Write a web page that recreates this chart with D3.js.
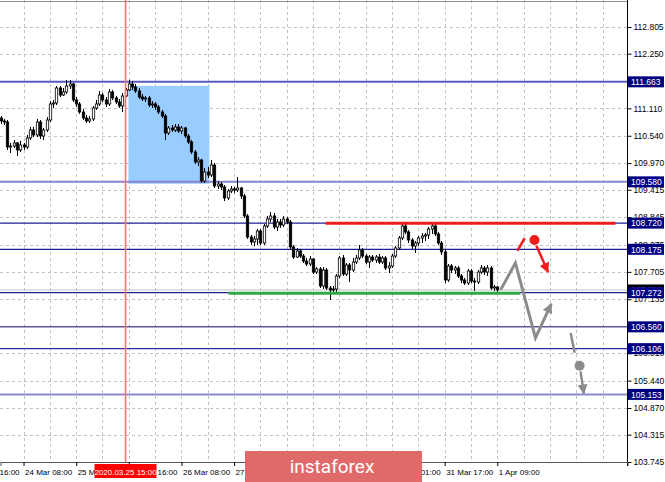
<!DOCTYPE html>
<html><head><meta charset="utf-8">
<script src="https://cdn.jsdelivr.net/npm/d3@7"></script>
<style>body{margin:0;background:#fff;overflow:hidden}svg{display:block;font-family:"Liberation Sans",Arial,sans-serif}</style>
</head><body><svg id="c" width="665" height="482"></svg>
<script>
// ---------- DATA (USDJPY H1) ----------
const firstOpen = 110.910;
const closes = [110.847,110.826,110.306,110.327,110.390,110.244,110.348,110.306,110.494,110.660,
110.556,110.826,110.535,110.660,110.868,111.202,111.223,111.535,111.389,111.452,
111.577,111.619,111.285,111.202,111.035,110.910,110.847,110.889,111.118,111.202,
111.389,111.285,111.202,111.452,111.327,111.243,111.160,111.368,111.493,111.619,
111.556,111.472,111.347,111.306,111.327,111.181,111.202,111.139,111.035,110.952,
110.598,110.702,110.660,110.722,110.639,110.702,110.535,110.410,110.202,109.994,
110.035,109.598,109.785,109.723,109.931,109.494,109.535,109.473,109.244,109.390,
109.431,109.410,109.452,109.285,108.869,108.431,108.327,108.390,108.556,108.306,
108.660,108.806,108.869,108.640,108.744,108.681,108.806,108.744,108.223,108.014,
108.140,108.035,107.931,107.869,107.973,107.702,107.765,107.411,107.744,107.369,
107.328,107.348,107.619,107.994,107.660,107.848,107.744,107.910,107.994,108.161,
108.035,107.910,108.014,107.952,108.014,107.910,107.994,107.786,107.827,108.035,
108.202,108.411,108.660,108.536,108.369,108.244,108.306,108.411,108.452,108.473,
108.598,108.660,108.494,108.306,108.119,107.536,107.827,107.744,107.786,107.619,
107.536,107.473,107.723,107.515,107.494,107.702,107.786,107.702,107.786,107.369,
107.390,107.328];
const highs = [110.952,110.889,110.868,110.390,110.452,110.410,110.431,110.390,110.556,110.722,
110.722,110.889,110.868,110.702,110.931,111.264,111.285,111.577,111.577,111.535,
111.702,111.702,111.640,111.347,111.243,111.098,110.973,110.952,111.160,111.285,
111.472,111.431,111.347,111.514,111.493,111.368,111.306,111.431,111.535,111.702,
111.681,111.619,111.535,111.410,111.368,111.368,111.264,111.243,111.181,111.077,
110.993,110.743,110.764,110.785,110.785,110.743,110.722,110.577,110.452,110.244,
110.098,110.056,109.869,109.890,110.035,109.973,109.598,109.577,109.515,109.431,
109.494,109.473,109.681,109.473,109.327,108.911,108.473,108.452,108.598,108.598,
108.702,108.869,108.952,108.931,108.806,108.806,108.869,108.848,108.786,108.265,
108.202,108.182,108.077,107.994,108.035,107.994,107.806,107.806,107.806,107.785,
107.411,107.411,107.660,108.035,108.056,107.890,107.890,107.994,108.056,108.265,
108.202,108.077,108.056,108.056,108.056,108.077,108.035,108.035,107.910,108.077,
108.244,108.452,108.723,108.702,108.577,108.411,108.348,108.452,108.515,108.515,
108.640,108.723,108.702,108.536,108.348,108.161,107.869,107.869,107.827,107.827,
107.660,107.577,107.765,107.765,107.577,107.744,107.848,107.827,107.848,107.827,
107.432,107.411];
const lows = [110.785,110.764,110.244,110.182,110.285,110.119,110.202,110.244,110.265,110.452,
110.514,110.514,110.473,110.452,110.618,110.826,111.118,111.181,111.347,111.368,
111.410,111.514,111.243,111.139,110.993,110.868,110.806,110.806,110.847,111.077,
111.160,111.243,111.139,111.160,111.285,111.202,111.118,111.035,111.347,111.472,
111.493,111.431,111.306,111.264,111.243,111.139,111.118,111.077,110.993,110.910,
110.452,110.556,110.618,110.618,110.598,110.577,110.494,110.369,110.160,109.952,
109.910,109.556,109.556,109.660,109.681,109.452,109.431,109.410,109.181,109.202,
109.348,109.348,109.369,109.223,108.827,108.390,108.265,108.244,108.265,108.265,
108.265,108.619,108.744,108.598,108.556,108.619,108.640,108.702,108.182,107.973,
107.994,107.994,107.890,107.827,107.827,107.660,107.660,107.369,107.348,107.328,
107.119,107.265,107.286,107.577,107.619,107.619,107.494,107.702,107.869,107.952,
107.994,107.869,107.786,107.910,107.890,107.869,107.869,107.744,107.681,107.786,
107.994,108.161,108.369,108.494,108.306,108.182,108.098,108.244,108.306,108.348,
108.390,108.494,108.452,108.265,108.056,107.473,107.494,107.681,107.660,107.577,
107.473,107.432,107.432,107.473,107.307,107.452,107.660,107.640,107.619,107.328,
107.307,107.286];

const yTicks = [112.805,112.250,111.680,111.110,110.540,109.970,109.415,108.845,108.275,
                107.705,107.135,106.575,106.010,105.440,104.870,104.315,103.745];
const yHiddenTicks = [111.680, 106.575];
const xTickIdx = [-9,7,23,39,55,71,87,103,119,135,151];
const xTickLabels = ["23 Mar 16:00","24 Mar 08:00","25 Mar 00:00","25 Mar 16:00","26 Mar 08:00",
                     "27 Mar 00:00","27 Mar 16:00","30 Mar 09:00","31 Mar 01:00","31 Mar 17:00","1 Apr 09:00"];
const levels = [111.663,109.580,108.720,108.175,107.272,106.560,106.106,105.153];
const levelLabels = ["111.663","109.580","108.720","108.175","107.272","106.560","106.106","105.153"];
const markerIdx = 38, markerLabel = "2020.03.25 15:00";
const zoneIdx = [38.9, 63.5], zonePrice = [111.58, 109.54];
const resistIdx = [98.8, 186.9], resistPrice = 108.72;
const supportIdx = [69.3, 158], supportPrice = 107.262;
const grayZig = [[152,107.33],[156.5,107.89],[162.6,106.33],[167.4,107.04]];
const redStroke = [[157.1,108.14],[159.3,108.41]];
const redDot = [162.3,108.37];
const redArrow = [[162.9,108.25],[166.4,107.70]];
const grayDash = [[173.3,106.43],[174.5,106.02]];
const grayDot = [176.0,105.75];
const grayArrow = [[176.3,105.63],[177.3,105.17]];

// ---------- STYLES ----------
const W = 665, H = 482, plotR = 627.5, plotB = 462;
const levelStyles = [
  {c:"#5a5ac0", w:2}, {c:"#8585d2", w:2}, {c:"#1e1e96", w:1.2}, {c:"#1e1e96", w:1.2},
  {c:"#1e1e96", w:1.2}, {c:"#5a5a96", w:1.5}, {c:"#2a2aa6", w:1.2}, {c:"#8a8ad0", w:2}];

const svg = d3.select("#c");
const x = d3.scaleLinear().domain([0, 190.6]).range([0.5, 627.6]);
const y = d3.scaleLinear().domain([103.745, 112.805]).range([462, 27]);

const candles = closes.map((c, i) => {
  const o = i === 0 ? firstOpen : closes[i-1];
  return {i, o, c, h: Math.max(highs[i], o, c), l: Math.min(lows[i], o, c)};
});

const defs = svg.append("defs");
function marker(id, color) {
  defs.append("marker").attr("id", id).attr("viewBox","0 0 10 10").attr("refX",9).attr("refY",5)
    .attr("markerUnits","userSpaceOnUse").attr("markerWidth",11).attr("markerHeight",10)
    .attr("orient","auto").append("path").attr("d","M0,0 L10,5 L0,10 Z").attr("fill", color);
}
marker("ag", "#8c8c8c"); marker("ar", "#f01c1c");

svg.append("rect").attr("width", W).attr("height", H).attr("fill", "#fff");

// grid
const grid = svg.append("g").attr("stroke","#c4c4c4").attr("stroke-dasharray","3,3").attr("stroke-width",1);
grid.selectAll("line.h").data(yTicks).join("line")
  .attr("x1",0).attr("x2",plotR).attr("y1",d=>Math.round(y(d))+0.5).attr("y2",d=>Math.round(y(d))+0.5);
const vIdx = d3.range(7, 191, 8);
grid.selectAll("line.v").data(vIdx).join("line")
  .attr("x1",d=>Math.round(x(d))+0.5).attr("x2",d=>Math.round(x(d))+0.5).attr("y1",0).attr("y2",plotB);

// zone rectangle
svg.append("rect").attr("x", x(zoneIdx[0])).attr("width", x(zoneIdx[1]) - x(zoneIdx[0]))
  .attr("y", y(zonePrice[0])).attr("height", y(zonePrice[1]) - y(zonePrice[0])).attr("fill", "#99ccff");

// levels
svg.append("g").selectAll("line").data(levels).join("line")
  .attr("x1",0).attr("x2",plotR).attr("y1",d=>y(d)).attr("y2",d=>y(d))
  .attr("stroke",(d,i)=>levelStyles[i].c).attr("stroke-width",(d,i)=>levelStyles[i].w);

// bid line
const last = closes[closes.length-1];
svg.append("line").attr("x1",0).attr("x2",plotR).attr("y1",y(last)).attr("y2",y(last))
  .attr("stroke","#c0c0c0").attr("stroke-width",1);

// candles
const cg = svg.append("g");
cg.selectAll("line").data(candles).join("line")
  .attr("x1",d=>Math.round(x(d.i))+0.5).attr("x2",d=>Math.round(x(d.i))+0.5)
  .attr("y1",d=>y(d.h)).attr("y2",d=>y(d.l)).attr("stroke","#000").attr("stroke-width",1);
cg.selectAll("rect").data(candles).join("rect")
  .attr("x",d=>Math.round(x(d.i))+0.5-1.2).attr("width",2.4)
  .attr("y",d=>y(Math.max(d.o,d.c))).attr("height",d=>Math.max(0.8, Math.abs(y(d.o)-y(d.c))))
  .attr("fill",d=>d.c>=d.o?"#fff":"#000").attr("stroke","#000").attr("stroke-width",0.8);

// resistance / support
svg.append("line").attr("x1",x(resistIdx[0])).attr("x2",x(resistIdx[1])).attr("y1",y(resistPrice)).attr("y2",y(resistPrice))
  .attr("stroke","#f01c1c").attr("stroke-width",3);
svg.append("line").attr("x1",x(supportIdx[0])).attr("x2",x(supportIdx[1])).attr("y1",y(supportPrice)).attr("y2",y(supportPrice))
  .attr("stroke","#2fa84a").attr("stroke-width",3);

// forecast drawings
const ln = d3.line().x(d=>x(d[0])).y(d=>y(d[1]));
svg.append("path").attr("d", ln(grayZig)).attr("fill","none").attr("stroke","#8c8c8c").attr("stroke-width",3)
  .attr("stroke-linejoin","miter").attr("marker-end","url(#ag)");
svg.append("path").attr("d", ln(redStroke)).attr("fill","none").attr("stroke","#f01c1c").attr("stroke-width",2.5);
svg.append("circle").attr("cx",x(redDot[0])).attr("cy",y(redDot[1])).attr("r",5).attr("fill","#f01c1c");
svg.append("path").attr("d", ln(redArrow)).attr("fill","none").attr("stroke","#f01c1c").attr("stroke-width",2.5)
  .attr("marker-end","url(#ar)");
svg.append("path").attr("d", ln(grayDash)).attr("fill","none").attr("stroke","#8c8c8c").attr("stroke-width",2.5);
svg.append("circle").attr("cx",x(grayDot[0])).attr("cy",y(grayDot[1])).attr("r",5).attr("fill","#8c8c8c");
svg.append("path").attr("d", ln(grayArrow)).attr("fill","none").attr("stroke","#8c8c8c").attr("stroke-width",2.5)
  .attr("marker-end","url(#ag)");

// red vertical marker
svg.append("line").attr("x1",x(markerIdx)).attr("x2",x(markerIdx)).attr("y1",0).attr("y2",plotB)
  .attr("stroke","#ff7070").attr("stroke-width",1.6);

// frame
svg.append("line").attr("x1",0).attr("x2",plotR).attr("y1",1.5).attr("y2",1.5).attr("stroke","#909090");
svg.append("line").attr("x1",plotR).attr("x2",plotR).attr("y1",0).attr("y2",plotB+4).attr("stroke","#000");

// right axis
const ya = svg.append("g").attr("transform",`translate(${plotR},0)`)
  .call(d3.axisRight(y).tickValues(yTicks)
    .tickFormat(d => yHiddenTicks.includes(d) ? "" : d3.format(".3f")(d)).tickSize(4).tickPadding(2));
ya.select(".domain").remove();
ya.selectAll("text").attr("font-size",8.5).attr("fill","#000").attr("font-family","Liberation Sans, Arial");

// bottom axis
const xa = svg.append("g").attr("transform",`translate(0,${plotB})`)
  .call(d3.axisBottom(x).tickValues(xTickIdx).tickFormat((d,i)=>xTickLabels[i]).tickSize(4).tickPadding(3));
xa.select(".domain").attr("stroke","#555");
xa.selectAll("text").attr("font-size",8).attr("text-anchor","start").attr("dx",1).attr("fill","#000")
  .attr("font-family","Liberation Sans, Arial");

// bid label
const bl = svg.append("g").attr("transform",`translate(628,${y(last)})`);
bl.append("rect").attr("x",0).attr("y",-5.5).attr("width",36).attr("height",11).attr("fill","#000");
bl.append("text").attr("x",3).attr("y",3.2).attr("fill","#fff").attr("font-size",8.5).text(d3.format(".3f")(last));

// level labels
const lg = svg.append("g").selectAll("g").data(levels).join("g").attr("transform",d=>`translate(628,${y(d)})`);
lg.append("rect").attr("x",0).attr("y",-5.5).attr("width",36).attr("height",11).attr("fill","#000080");
lg.append("text").attr("x",3).attr("y",3.2).attr("fill","#fff").attr("font-size",8.5).text((d,i)=>levelLabels[i]);

// marker time label
const mx = x(markerIdx);
svg.append("rect").attr("x",mx-31).attr("y",464).attr("width",62).attr("height",14).attr("fill","#ff0000");
svg.append("text").attr("x",mx).attr("y",474.5).attr("text-anchor","middle").attr("fill","#fff")
  .attr("font-size",8).text(markerLabel);

// watermark
svg.append("rect").attr("x",245).attr("y",451).attr("width",177).attr("height",31).attr("fill","#e06a6a");
svg.append("text").attr("x",332).attr("y",473).attr("text-anchor","middle").attr("fill","#fff")
  .attr("font-family","Roboto, 'Open Sans', sans-serif").attr("font-size",19).text("instaforex");
</script></body></html>
